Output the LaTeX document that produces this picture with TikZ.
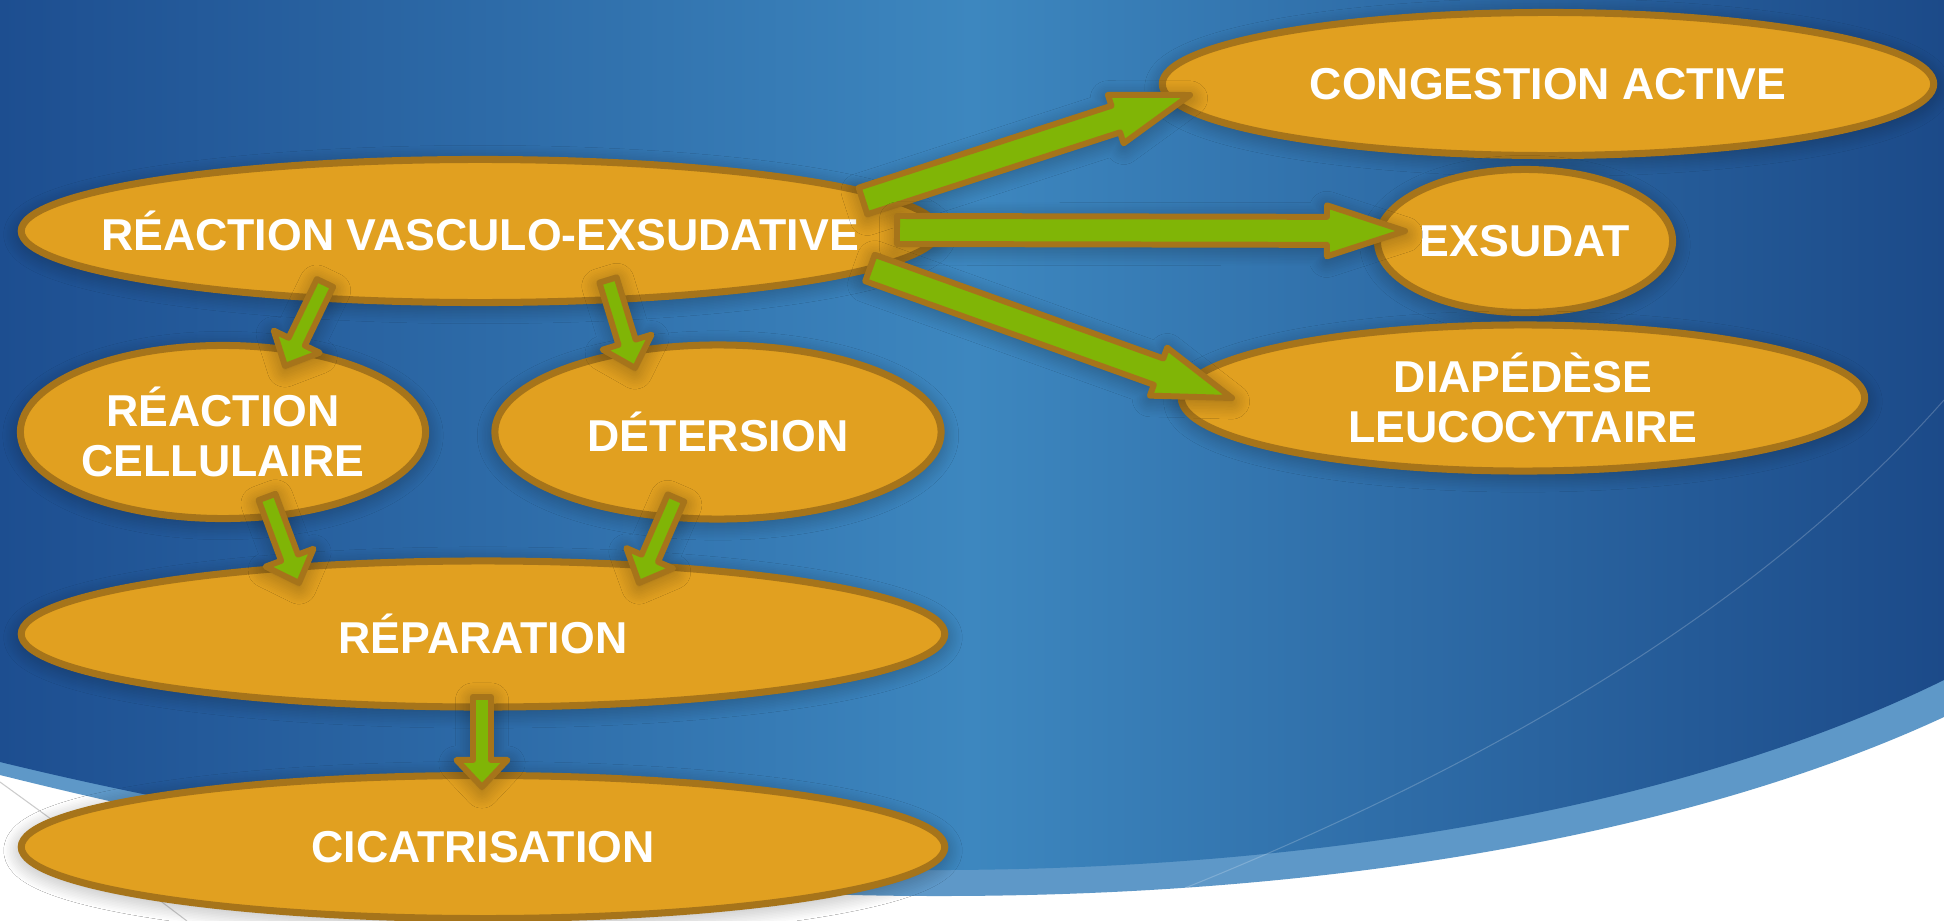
\documentclass[tikz,border=0pt]{standalone}
\usepackage{fontspec}
\setmainfont{Liberation Sans}
\usetikzlibrary{calc,shapes,shadows.blur}

\definecolor{bgdark}{HTML}{1D4E90}
\definecolor{bglight}{HTML}{3D87BF}
\definecolor{bgband}{HTML}{5E98C8}
\definecolor{stagefill}{HTML}{E1A020}
\definecolor{stageline}{HTML}{A6741A}
\definecolor{arrowfill}{HTML}{80B506}

\tikzset{
  softshadow/.style={blur shadow={shadow xshift=0pt, shadow yshift=-1pt,
    shadow blur radius=5pt, shadow blur steps=12, shadow opacity=35}},
  stage/.style={ellipse, draw=stageline, fill=stagefill, line width=2pt,
    inner xsep=-3cm, inner ysep=-1cm, align=center, text=white, softshadow,
    font=\fontsize{12.7}{14.3}\selectfont\bfseries},
  blockarrow/.style={draw=stageline, fill=arrowfill, line width=1.7pt,
    line join=round, softshadow}
}

% block arrow: tail, head, shaft half-width, head half-width, head length
\newcommand{\BlockArrow}[5]{%
  \coordinate (ba-t) at #1;
  \coordinate (ba-h) at #2;
  \coordinate (ba-b) at ($(ba-h)!#5!(ba-t)$);
  \draw[blockarrow] ($(ba-t)!#3!90:(ba-h)$) -- ($(ba-b)!#3!-90:(ba-t)$)
    -- ($(ba-b)!#4!-90:(ba-t)$) -- (ba-h) -- ($(ba-b)!#4!90:(ba-t)$)
    -- ($(ba-b)!#3!90:(ba-t)$) -- ($(ba-t)!#3!-90:(ba-h)$) -- cycle;
}
\newcommand{\BigArrow}[2]{\BlockArrow{#1}{#2}{0.14cm}{0.255cm}{0.78cm}}
\newcommand{\SmallArrow}[2]{\BlockArrow{#1}{#2}{0.09cm}{0.255cm}{0.27cm}}

\begin{document}
\begin{tikzpicture}[x=0.01cm, y=-0.01cm]
		\useasboundingbox (0,0) rectangle (1944,921);

		% Background
		\fill[white] (0,0) rectangle (1944,921);
		\fill[bgband] (0,0) -- (1944,0) -- (1944,717)
			.. controls (1700,830) and (1350,895) .. (950,896)
			.. controls (600,897) and (300,850) .. (0,775) -- cycle;
		\shade[left color=bgdark, right color=bgdark!95!black, middle color=bglight]
			(0,0) -- (1944,0) -- (1944,680)
			.. controls (1700,800) and (1350,868) .. (950,870)
			.. controls (600,872) and (300,835) .. (0,762) -- cycle;
		\draw[white, opacity=0.2, line width=0.3pt] (1944,400)
			.. controls (1750,620) and (1450,790) .. (1100,921);
		\draw[gray!40, line width=0.3pt] (0,782) .. controls (80,840) .. (187,921);
		\fill[blue!80!black] (1271,934) circle (13);

		% Define nodes
		\node[stage, minimum width=9.17cm, minimum height=1.43cm] (vasc) at (480,231) {RÉACTION VASCULO-EXSUDATIVE};
		\node[stage, minimum width=7.71cm, minimum height=1.43cm] (cong) at (1548,84) {CONGESTION ACTIVE};
		\node[stage, minimum width=2.95cm, minimum height=1.43cm] (exsu) at (1525,241) {EXSUDAT};
		\node[stage, minimum width=6.83cm, minimum height=1.46cm] (diap) at (1523,398) {DIAPÉDÈSE\\LEUCOCYTAIRE};
		\node[stage, minimum width=4.05cm, minimum height=1.73cm] (rcel) at (223,432) {RÉACTION\\CELLULAIRE};
		\node[stage, minimum width=4.46cm, minimum height=1.74cm] (dete) at (718,432) {DÉTERSION};
		\node[stage, minimum width=9.23cm, minimum height=1.46cm] (repa) at (483,634) {RÉPARATION};
		\node[stage, minimum width=9.23cm, minimum height=1.43cm] (cica) at (483,847) {CICATRISATION};

		% Connect the nodes
		\BigArrow{($(vasc)+(383,-30)$)}{($(cong)+(-358,11)$)}
		\BigArrow{($(vasc)+(417,-1)$)}{($(exsu)+(-120,-10)$)}
		\BigArrow{($(vasc)+(390,37)$)}{($(diap)+(-291,0)$)}
		\SmallArrow{($(vasc)+(-155,52)$)}{($(rcel)+(62,-66)$)}
		\SmallArrow{($(vasc)+(128,49)$)}{($(dete)+(-83,-64)$)}
		\SmallArrow{($(rcel)+(44,65)$)}{($(repa)+(-184,-51)$)}
		\SmallArrow{($(dete)+(-42,66)$)}{($(repa)+(156,-51)$)}
		\SmallArrow{($(repa)+(-1,63)$)}{($(cica)+(-1,-60)$)}
\end{tikzpicture}
\end{document}
